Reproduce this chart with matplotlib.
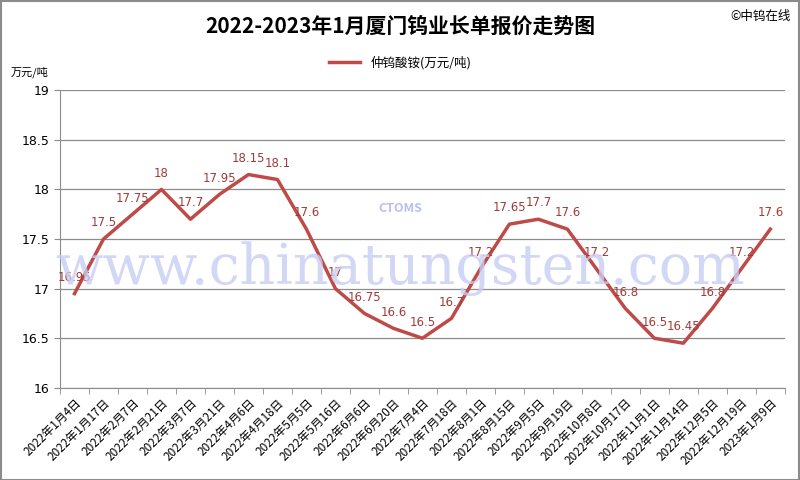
import matplotlib.pyplot as plt
import numpy as np
from matplotlib.patches import Rectangle

plt.rcParams['font.family'] = ['Noto Sans CJK SC', 'DejaVu Sans']

dates = ['2022年1月4日', '2022年1月17日', '2022年2月7日', '2022年2月21日', '2022年3月7日',
         '2022年3月21日', '2022年4月6日', '2022年4月18日', '2022年5月5日', '2022年5月16日',
         '2022年6月6日', '2022年6月20日', '2022年7月4日', '2022年7月18日', '2022年8月1日',
         '2022年8月15日', '2022年9月5日', '2022年9月19日', '2022年10月8日', '2022年10月17日',
         '2022年11月1日', '2022年11月14日', '2022年12月5日', '2022年12月19日', '2023年1月9日']
prices = [16.95, 17.5, 17.75, 18, 17.7, 17.95, 18.15, 18.1, 17.6, 17,
          16.75, 16.6, 16.5, 16.7, 17.2, 17.65, 17.7, 17.6, 17.2, 16.8,
          16.5, 16.45, 16.8, 17.2, 17.6]
series_name = '仲钨酸铵(万元/吨)'

line_color = '#BE4B48'
fig = plt.figure(figsize=(8, 4.8), dpi=100)
ax = fig.add_axes([0.075, 0.192, 0.906, 0.62])

# watermark
fig.text(0.5, 0.44, 'www.chinatungsten.com', ha='center', va='center', fontsize=40,
         family='DejaVu Serif', color='#C9CDF4', alpha=0.8, zorder=0)
fig.text(0.5, 0.565, 'CTOMS', ha='center', va='center', fontsize=9, style='italic',
         fontweight='bold', color='#B9C0F0', zorder=0)

x = np.arange(len(dates))
ax.plot(x, prices, color=line_color, lw=2.5, label=series_name, zorder=3)
for xi, yi in zip(x, prices):
    ax.annotate(f'{yi:g}', (xi, yi), xytext=(0, 7), textcoords='offset points',
                ha='center', va='bottom', fontsize=8.5, color='#A33A36', family='DejaVu Sans')

ax.set_xlim(-0.5, len(dates) - 0.5)
ax.set_ylim(16, 19)
ax.set_yticks(np.arange(16, 19.01, 0.5))
ax.set_yticklabels([f'{v:g}' for v in np.arange(16, 19.01, 0.5)], fontsize=9, family='DejaVu Sans')
ax.yaxis.grid(True, color='#8C8C8C', lw=0.9)
ax.set_axisbelow(True)
ax.set_xticks(x)
ax.set_xticklabels(dates, rotation=45, ha='right', rotation_mode='anchor', fontsize=8.5)
ax.set_xticks(np.arange(-0.5, len(dates), 1), minor=True)
ax.tick_params(axis='x', which='major', length=0, pad=6)
ax.tick_params(axis='x', which='minor', length=4, color='#8C8C8C')
ax.tick_params(axis='y', length=4, color='#8C8C8C')
for s in ['top', 'right']:
    ax.spines[s].set_visible(False)
for s in ['left', 'bottom']:
    ax.spines[s].set_color('#8C8C8C')

fig.text(0.5, 0.945, '2022-2023年1月厦门钨业长单报价走势图', ha='center', va='center',
         fontsize=15, fontweight='bold')
fig.text(0.988, 0.965, '©中钨在线', ha='right', va='center', fontsize=9)
fig.text(0.013, 0.85, '万元/吨', ha='left', va='center', fontsize=8)
fig.legend(loc='center', bbox_to_anchor=(0.5, 0.87), frameon=False, fontsize=9,
           handlelength=2.5)

fig.add_artist(Rectangle((0.001, 0.001), 0.998, 0.997, transform=fig.transFigure,
                         fill=False, edgecolor='#8C8C8C', lw=1.5))

fig.savefig('out.png', dpi=100)
